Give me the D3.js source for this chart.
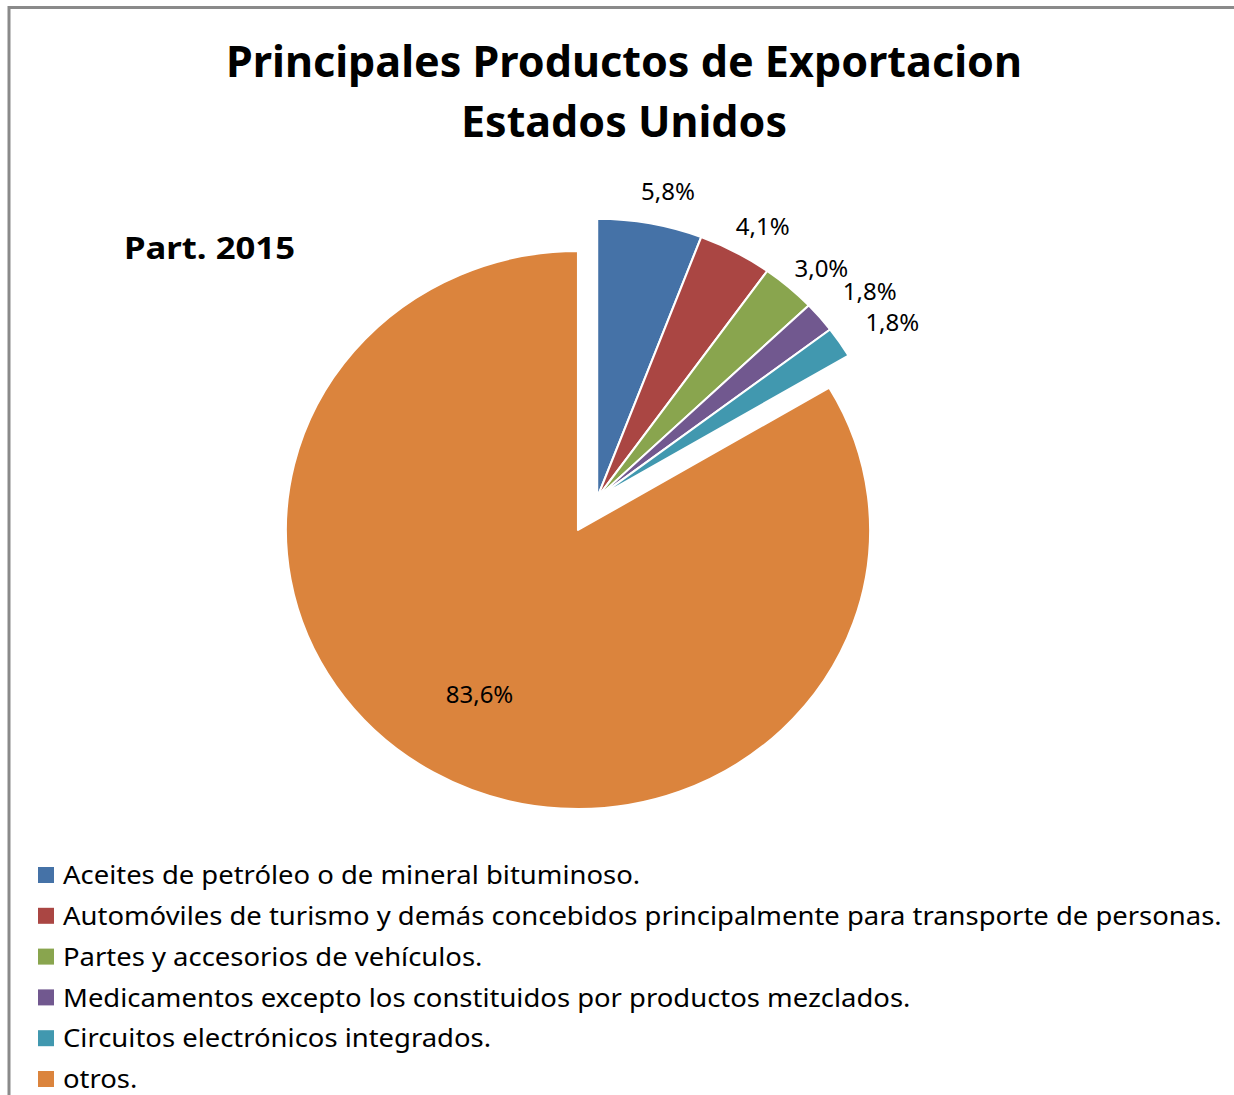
<!DOCTYPE html>
<html>
<head>
<meta charset="utf-8">
<script src="https://cdn.jsdelivr.net/npm/d3@7"></script>
<style>
  body { margin: 0; background: #fff; }
  svg { display: block; font-family: "Noto Sans", "Open Sans", sans-serif; }
</style>
</head>
<body>
<svg id="chart" width="1234" height="1095"></svg>
<script>
// datos
var categorias = [
  "Aceites de petróleo o de mineral bituminoso.",
  "Automóviles de turismo y demás concebidos principalmente para transporte de personas.",
  "Partes y accesorios de vehículos.",
  "Medicamentos excepto los constituidos por productos mezclados.",
  "Circuitos electrónicos integrados.",
  "otros."
];
var valores = [5.8, 4.1, 3.0, 1.8, 1.8, 83.6];
var etiquetas = ["5,8%", "4,1%", "3,0%", "1,8%", "1,8%", "83,6%"];
var colores = ["#4572A7", "#AA4643", "#89A54E", "#71588F", "#4198AF", "#DB843D"];
var titulo = ["Principales Productos de Exportacion", "Estados Unidos"];
var subtitulo = "Part. 2015";

var svg = d3.select("#chart");

// borde del area
svg.append("path")
  .attr("d", "M9,1095 V7.5 H1234")
  .attr("fill", "none")
  .attr("stroke", "#8a8a8a")
  .attr("stroke-width", 3);

// titulo
var tituloAnchos = [796, 326];
titulo.forEach(function(t, i) {
  svg.append("text")
    .attr("x", 624)
    .attr("y", 77 + i * 60)
    .attr("text-anchor", "middle")
    .attr("font-size", 43)
    .attr("font-weight", "bold")
    .attr("fill", "#000")
    .attr("textLength", tituloAnchos[i])
    .attr("lengthAdjust", "spacingAndGlyphs")
    .text(t);
});

svg.append("text")
  .attr("x", 124)
  .attr("y", 259)
  .attr("font-size", 30)
  .attr("font-weight", "bold")
  .attr("textLength", 171)
  .attr("lengthAdjust", "spacingAndGlyphs")
  .text(subtitulo);

// pastel
var cx = 578, cy = 530, r = 279, sx = 1.047, explota = 37;

var pie = d3.pie().sort(null).value(function(d) { return d; });
var arcos = pie(valores);
var arc = d3.arc().innerRadius(0).outerRadius(r);

// los cinco productos separados juntos
var finGrupo = arcos[4].endAngle;
var medio = finGrupo / 2;
var ox = Math.sin(medio) * explota * sx, oy = -Math.cos(medio) * explota;

var g = svg.append("g").attr("transform", "translate(" + cx + "," + cy + ")");

g.selectAll("path.slice")
  .data(arcos)
  .enter()
  .append("path")
  .attr("class", "slice")
  .attr("transform", function(d, i) {
    return i < 5 ? "translate(" + ox + "," + oy + ") scale(" + sx + ",1)" : "scale(" + sx + ",1)";
  })
  .attr("d", arc)
  .attr("fill", function(d, i) { return colores[i]; })
  .attr("stroke", "#fff")
  .attr("stroke-width", 2)
  .attr("stroke-linejoin", "round");

// etiquetas de datos (fuera para los productos, dentro para otros)
function posEtiqueta(d, i) {
  var a = (d.startAngle + d.endAngle) / 2;
  if (i < 5) {
    var rr = r + 35 + (d.value < 2 ? 18 : 0);
    a += 0.035;
    return [ox + Math.sin(a) * rr * sx, oy - Math.cos(a) * rr];
  }
  return [Math.sin(a) * 190 * sx, -Math.cos(a) * 190];
}

g.selectAll("text.lbl")
  .data(arcos)
  .enter()
  .append("text")
  .attr("class", "lbl")
  .attr("x", function(d, i) { return posEtiqueta(d, i)[0]; })
  .attr("y", function(d, i) { return posEtiqueta(d, i)[1]; })
  .attr("text-anchor", "middle")
  .attr("dy", "0.35em")
  .attr("font-size", 24)
  .attr("fill", "#000")
  .text(function(d, i) { return etiquetas[i]; });

// leyenda
var leyenda = svg.append("g");
var filas = leyenda.selectAll("g")
  .data(categorias)
  .enter()
  .append("g")
  .attr("transform", function(d, i) { return "translate(38," + (875 + i * 40.8) + ")"; });

filas.append("rect")
  .attr("x", 0)
  .attr("y", -8)
  .attr("width", 16)
  .attr("height", 16)
  .attr("fill", function(d, i) { return colores[i]; });

filas.append("text")
  .attr("x", 25)
  .attr("y", 0)
  .attr("dy", "0.35em")
  .attr("font-size", 26)
  .attr("fill", "#000")
  .text(function(d) { return d; })
  .each(function() {
    // ensanchar un poco, la fuente original es mas ancha por caracter
    var w = this.getComputedTextLength();
    d3.select(this).attr("textLength", w * 1.055).attr("lengthAdjust", "spacingAndGlyphs");
  });
</script>
</body>
</html>
